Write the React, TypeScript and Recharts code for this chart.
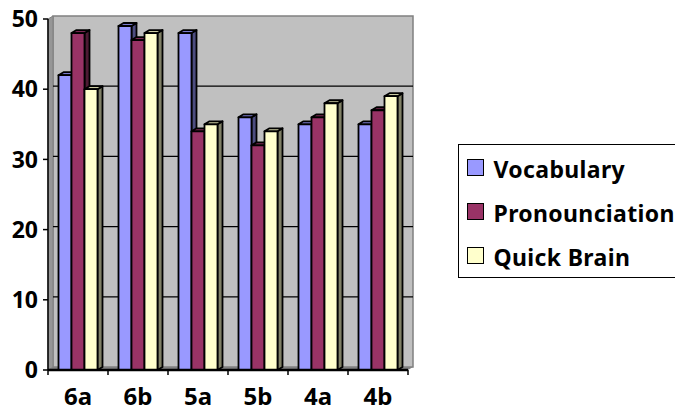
import React from 'react'
import { BarChart, Bar, XAxis, YAxis, usePlotArea } from 'recharts'

const grades = ['6a', '6b', '5a', '5b', '4a', '4b']
const vocabulary = [42, 49, 48, 36, 35, 35]
const pronounciation = [48, 47, 34, 32, 36, 37]
const quickBrain = [40, 48, 35, 34, 38, 39]
const yTicks = [0, 10, 20, 30, 40, 50]
const yMax = 50

const seriesNames = ['Vocabulary', 'Pronounciation', 'Quick Brain']
const seriesColors = ['#9999ff', '#993366', '#ffffcc']
const sideColors = ['#4d4d80', '#4d1a33', '#808066']
const topColors = ['#7a7acc', '#7a2952', '#cccca3']

const chartData = grades.map((grade, i) => ({
  grade,
  Vocabulary: vocabulary[i],
  Pronounciation: pronounciation[i],
  'Quick Brain': quickBrain[i],
}))

const FONT = '"Noto Sans", sans-serif'
const DX = 5 // 3d depth
const DY = 3

// back wall, side wall, floor and gridlines of the 3d box
const Walls = () => {
  const plot = usePlotArea()
  if (!plot) return null
  const { x, y, width, height } = plot
  const bottom = y + height
  const right = x + width
  const step = width / grades.length
  return (
    <g>
      <rect x={x + DX} y={y - DY} width={width} height={height} fill="#c0c0c0" stroke="#808080" strokeWidth={1.5} />
      <polygon points={`${x},${y} ${x + DX},${y - DY} ${x + DX},${bottom - DY} ${x},${bottom}`} fill="#969696" stroke="#808080" />
      <polygon points={`${x},${bottom} ${x + DX},${bottom - DY} ${right + DX},${bottom - DY} ${right},${bottom}`} fill="#808080" />
      {yTicks.slice(1, -1).map((t) => {
        const ly = bottom - (t / yMax) * height - DY
        return <line key={t} x1={x + DX} x2={right + DX} y1={ly} y2={ly} stroke="#000" strokeWidth={1.3} />
      })}
      {grades.map((g, i) => (
        <line key={g} x1={x + i * step} x2={x + i * step} y1={bottom} y2={bottom + 5} stroke="#000" strokeWidth={1.5} />
      ))}
      <line x1={right} x2={right} y1={bottom} y2={bottom + 5} stroke="#000" strokeWidth={1.5} />
    </g>
  )
}

const Bar3D = ({ x, y, width, height, fill, side, top }: any) => (
  <g stroke="#000" strokeWidth={1.8} strokeLinejoin="round">
    <polygon points={`${x + width},${y} ${x + width + DX},${y - DY} ${x + width + DX},${y + height - DY} ${x + width},${y + height}`} fill={side} />
    <polygon points={`${x},${y} ${x + DX},${y - DY} ${x + width + DX},${y - DY} ${x + width},${y}`} fill={top} />
    <rect x={x} y={y} width={width} height={height} fill={fill} />
  </g>
)

const LegendBox = () => (
  <div
    style={{
      position: 'absolute',
      left: 458,
      top: 144,
      border: '1.5px solid #000',
      boxSizing: 'border-box',
      width: 230,
      height: 134,
      display: 'flex',
      flexDirection: 'column',
      justifyContent: 'space-around',
      padding: '0 0 0 7.5px',
      fontFamily: FONT,
      fontWeight: 700,
      fontSize: 23,
      letterSpacing: 0.35,
      lineHeight: '30px',
      color: '#000',
    }}
  >
    {seriesNames.map((name, i) => (
      <div key={name} style={{ display: 'flex', alignItems: 'center' }}>
        <span
          style={{
            width: 17,
            height: 17,
            boxSizing: 'border-box',
            background: seriesColors[i],
            border: '1.5px solid #000',
            marginRight: 10,
            flexShrink: 0,
          }}
        />
        <span style={{ position: 'relative', top: 2 }}>{name}</span>
      </div>
    ))}
  </div>
)

export default function App() {
  const yTickStyle = { fontFamily: FONT, fontWeight: 700, fontSize: 23, fill: '#000' }
  const xTickStyle = { fontFamily: FONT, fontWeight: 700, fontSize: 24, fill: '#000' }
  return (
    <div style={{ position: 'fixed', left: 0, top: 0, width: 675, height: 412, overflow: 'hidden', background: '#fff' }}>
      <BarChart
        width={675}
        height={412}
        data={chartData}
        margin={{ top: 19, right: 267, bottom: 0, left: 0 }}
        barCategoryGap={10.5}
        barGap={0}
      >
        <Walls />
        <XAxis
          dataKey="grade"
          height={42}
          tick={xTickStyle}
          tickLine={false}
          axisLine={{ stroke: '#000', strokeWidth: 2.5 }}
          tickMargin={12}
        />
        <YAxis
          width={48}
          domain={[0, yMax]}
          ticks={yTicks}
          tick={yTickStyle}
          tickLine={{ stroke: '#000', strokeWidth: 1.5 }}
          tickSize={5}
          tickMargin={5}
          axisLine={{ stroke: '#000', strokeWidth: 1.5 }}
        />
        {seriesNames.map((name, i) => (
          <Bar
            key={name}
            dataKey={name}
            fill={seriesColors[i]}
            isAnimationActive={false}
            shape={<Bar3D side={sideColors[i]} top={topColors[i]} />}
          />
        ))}
      </BarChart>
      <LegendBox />
    </div>
  )
}
